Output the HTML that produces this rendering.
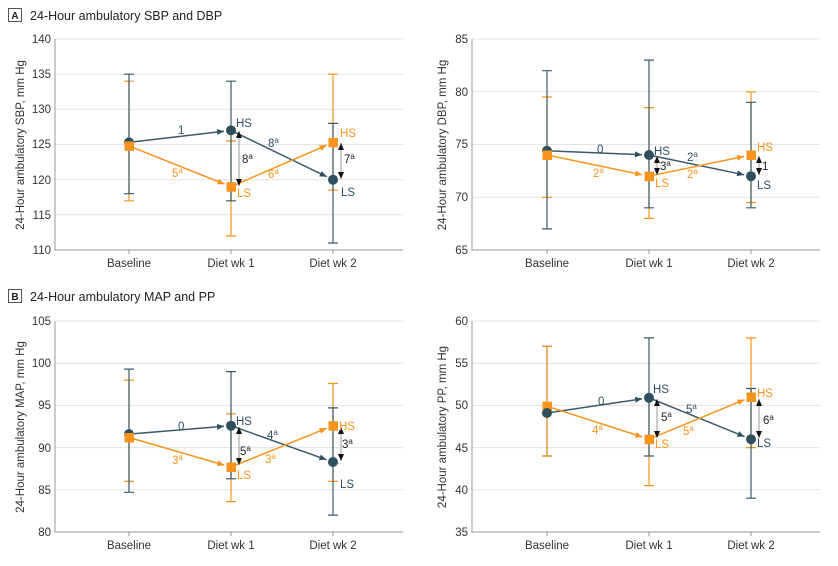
<!DOCTYPE html>
<html><head><meta charset="utf-8"><style>
body{margin:0;background:#fff}
svg{display:block;font-family:"Liberation Sans",sans-serif}
.g{stroke:#e3e3e3;stroke-width:1}
.ax{stroke:#999;stroke-width:1;fill:none}
.t{font-size:11.5px;fill:#333}
.n{stroke:#3a5a69;stroke-width:1.5;fill:none}
.o{stroke:#f7941d;stroke-width:1.5;fill:none}
.eb{stroke-width:1.2}
.nt{fill:#2f4f5f;font-size:11.5px}
.ot{fill:#f7941d;font-size:11.5px}
.kt{fill:#222;font-size:11.5px}
.gr{stroke:#999;stroke-width:1;fill:none}
</style></head><body>
<svg width="838" height="566" viewBox="0 0 838 566" xmlns="http://www.w3.org/2000/svg">
<defs>
<marker id="an" markerWidth="8" markerHeight="8" refX="7" refY="4" orient="auto" markerUnits="userSpaceOnUse"><path d="M0,1 L7,4 L0,7z" fill="#2f4f5f"/></marker>
<marker id="ao" markerWidth="8" markerHeight="8" refX="7" refY="4" orient="auto" markerUnits="userSpaceOnUse"><path d="M0,1 L7,4 L0,7z" fill="#f7941d"/></marker>
<marker id="ak" markerWidth="8" markerHeight="8" refX="7" refY="4" orient="auto-start-reverse" markerUnits="userSpaceOnUse"><path d="M0,1 L7,4 L0,7z" fill="#111"/></marker>
</defs>

<rect x="8.5" y="8.5" width="13" height="13" fill="none" stroke="#555"/>
<text x="15" y="19" text-anchor="middle" font-size="10" font-weight="bold" fill="#222">A</text>
<text x="30" y="20" font-size="12.5" fill="#222">24-Hour ambulatory SBP and DBP</text>
<rect x="8.5" y="289.5" width="13" height="13" fill="none" stroke="#555"/>
<text x="15" y="300" text-anchor="middle" font-size="10" font-weight="bold" fill="#222">B</text>
<text x="30" y="301" font-size="12.5" fill="#222">24-Hour ambulatory MAP and PP</text>

<g>
<line class="g" x1="55" x2="403" y1="39" y2="39"/><line class="g" x1="55" x2="403" y1="74.2" y2="74.2"/><line class="g" x1="55" x2="403" y1="109.3" y2="109.3"/><line class="g" x1="55" x2="403" y1="144.5" y2="144.5"/><line class="g" x1="55" x2="403" y1="179.7" y2="179.7"/><line class="g" x1="55" x2="403" y1="214.8" y2="214.8"/>
<path class="ax" d="M55,39 V250 H403 M129,250 v4 M231,250 v4 M333,250 v4"/>
<g class="t" text-anchor="end"><text x="51" y="43">140</text><text x="51" y="78">135</text><text x="51" y="113">130</text><text x="51" y="148">125</text><text x="51" y="184">120</text><text x="51" y="219">115</text><text x="51" y="254">110</text></g>
<g class="t" text-anchor="middle"><text x="129" y="267">Baseline</text><text x="231" y="267">Diet wk 1</text><text x="333" y="267">Diet wk 2</text></g>
<text class="t" transform="translate(24,145) rotate(-90)" text-anchor="middle">24-Hour ambulatory SBP, mm Hg</text>
<path class="o eb" d="M129,81.2V200.8M124,81.2h10M124,200.8h10 M231,141V236M226,141h10M226,236h10 M333,74.2V190.2M328,74.2h10M328,190.2h10"/>
<path class="n eb" d="M129,74.2V193.7M124,74.2h10M124,193.7h10 M231,81.2V200.8M226,81.2h10M226,200.8h10 M333,123.4V243M328,123.4h10M328,243h10"/>
<line class="n" x1="129" y1="142.4" x2="224" y2="131.2" marker-end="url(#an)"/>
<line class="n" x1="231" y1="130.4" x2="326.7" y2="176.7" marker-end="url(#an)"/>
<line class="o" x1="129" y1="145.9" x2="224.5" y2="184.1" marker-end="url(#ao)"/>
<line class="o" x1="231" y1="186.7" x2="326.6" y2="145.2" marker-end="url(#ao)"/>
<line class="gr" x1="239" y1="131" x2="239" y2="186" marker-start="url(#ak)" marker-end="url(#ak)"/>
<line class="gr" x1="341" y1="143" x2="341" y2="179" marker-start="url(#ak)" marker-end="url(#ak)"/>
<circle cx="129" cy="142.4" r="5" fill="#2f4f5f"/><rect x="124.5" y="141.4" width="9.5" height="9.5" fill="#f7941d"/>
<circle cx="231" cy="130.4" r="5" fill="#2f4f5f"/><rect x="226.5" y="182.2" width="9.5" height="9.5" fill="#f7941d"/>
<circle cx="333" cy="179.7" r="5" fill="#2f4f5f"/><rect x="328.5" y="137.9" width="9.5" height="9.5" fill="#f7941d"/>
<text class="nt" x="178" y="134">1</text>
<text class="nt" x="268" y="147">8<tspan font-size="8" dy="-4">a</tspan></text>
<text class="ot" x="172" y="177">5<tspan font-size="8" dy="-4">a</tspan></text>
<text class="ot" x="268" y="178">6<tspan font-size="8" dy="-4">a</tspan></text>
<text class="kt" x="242" y="163">8<tspan font-size="8" dy="-4">a</tspan></text>
<text class="kt" x="344" y="163">7<tspan font-size="8" dy="-4">a</tspan></text>
<text class="nt" x="236" y="127">HS</text><text class="ot" x="237" y="197">LS</text>
<text class="ot" x="340" y="137">HS</text><text class="nt" x="341" y="196">LS</text>
</g>

<g>
<line class="g" x1="472" x2="820" y1="39" y2="39"/><line class="g" x1="472" x2="820" y1="91.8" y2="91.8"/><line class="g" x1="472" x2="820" y1="144.5" y2="144.5"/><line class="g" x1="472" x2="820" y1="197.3" y2="197.3"/>
<path class="ax" d="M472,39 V250 H820 M547,250 v4 M649,250 v4 M751,250 v4"/>
<g class="t" text-anchor="end"><text x="468" y="43">85</text><text x="468" y="96">80</text><text x="468" y="148">75</text><text x="468" y="201">70</text><text x="468" y="254">65</text></g>
<g class="t" text-anchor="middle"><text x="547" y="267">Baseline</text><text x="649" y="267">Diet wk 1</text><text x="751" y="267">Diet wk 2</text></g>
<text class="t" transform="translate(446,145) rotate(-90)" text-anchor="middle">24-Hour ambulatory DBP, mm Hg</text>
<path class="o eb" d="M547,97V197.3M542,97h10M542,197.3h10 M649,107.6V218.4M644,107.6h10M644,218.4h10 M751,91.8V202.5M746,91.8h10M746,202.5h10"/>
<path class="n eb" d="M547,70.7V228.9M542,70.7h10M542,228.9h10 M649,60.1V207.8M644,60.1h10M644,207.8h10 M751,102.3V207.8M746,102.3h10M746,207.8h10"/>
<line class="n" x1="547" y1="150.8" x2="642" y2="154.7" marker-end="url(#an)"/>
<line class="n" x1="649" y1="155" x2="744.1" y2="174.8" marker-end="url(#an)"/>
<line class="o" x1="547" y1="155" x2="642.1" y2="174.8" marker-end="url(#ao)"/>
<line class="o" x1="649" y1="176.2" x2="744.1" y2="156.4" marker-end="url(#ao)"/>
<line class="gr" x1="657" y1="156" x2="657" y2="175" marker-start="url(#ak)" marker-end="url(#ak)"/>
<line class="gr" x1="759" y1="156" x2="759" y2="175" marker-start="url(#ak)" marker-end="url(#ak)"/>
<circle cx="547" cy="150.8" r="5" fill="#2f4f5f"/><rect x="542.5" y="150.5" width="9.5" height="9.5" fill="#f7941d"/>
<circle cx="649" cy="155" r="5" fill="#2f4f5f"/><rect x="644.5" y="171.7" width="9.5" height="9.5" fill="#f7941d"/>
<circle cx="751" cy="176.2" r="5" fill="#2f4f5f"/><rect x="746.5" y="150.5" width="9.5" height="9.5" fill="#f7941d"/>
<text class="nt" x="597" y="153">0</text>
<text class="nt" x="687" y="161">2<tspan font-size="8" dy="-4">a</tspan></text>
<text class="ot" x="593" y="177">2<tspan font-size="8" dy="-4">a</tspan></text>
<text class="ot" x="687" y="178">2<tspan font-size="8" dy="-4">a</tspan></text>
<text class="kt" x="660" y="170">3<tspan font-size="8" dy="-4">a</tspan></text>
<text class="kt" x="762" y="170">1</text>
<text class="nt" x="654" y="155">HS</text><text class="ot" x="655" y="187">LS</text>
<text class="ot" x="757" y="151">HS</text><text class="nt" x="757" y="189">LS</text>
</g>

<g>
<line class="g" x1="55" x2="403" y1="321" y2="321"/><line class="g" x1="55" x2="403" y1="363.2" y2="363.2"/><line class="g" x1="55" x2="403" y1="405.4" y2="405.4"/><line class="g" x1="55" x2="403" y1="447.6" y2="447.6"/><line class="g" x1="55" x2="403" y1="489.8" y2="489.8"/>
<path class="ax" d="M55,321 V532 H403 M129,532 v4 M231,532 v4 M333,532 v4"/>
<g class="t" text-anchor="end"><text x="51" y="325">105</text><text x="51" y="367">100</text><text x="51" y="409">95</text><text x="51" y="452">90</text><text x="51" y="494">85</text><text x="51" y="536">80</text></g>
<g class="t" text-anchor="middle"><text x="129" y="549">Baseline</text><text x="231" y="549">Diet wk 1</text><text x="333" y="549">Diet wk 2</text></g>
<text class="t" transform="translate(24,427) rotate(-90)" text-anchor="middle">24-Hour ambulatory MAP, mm Hg</text>
<path class="o eb" d="M129,380.1V481.4M124,380.1h10M124,481.4h10 M231,413.8V501.6M226,413.8h10M226,501.6h10 M333,383.5V481.4M328,383.5h10M328,481.4h10"/>
<path class="n eb" d="M129,369.1V492.3M124,369.1h10M124,492.3h10 M231,371.6V478.8M226,371.6h10M226,478.8h10 M333,407.9V515.1M328,407.9h10M328,515.1h10"/>
<line class="n" x1="129" y1="434.1" x2="224" y2="426.3" marker-end="url(#an)"/>
<line class="n" x1="231" y1="425.7" x2="326.4" y2="459.7" marker-end="url(#an)"/>
<line class="o" x1="129" y1="437.5" x2="224.3" y2="465.1" marker-end="url(#ao)"/>
<line class="o" x1="231" y1="467" x2="326.5" y2="428.3" marker-end="url(#ao)"/>
<line class="gr" x1="239" y1="427" x2="239" y2="465" marker-start="url(#ak)" marker-end="url(#ak)"/>
<line class="gr" x1="341" y1="427" x2="341" y2="461" marker-start="url(#ak)" marker-end="url(#ak)"/>
<circle cx="129" cy="434.1" r="5" fill="#2f4f5f"/><rect x="124.5" y="433" width="9.5" height="9.5" fill="#f7941d"/>
<circle cx="231" cy="425.7" r="5" fill="#2f4f5f"/><rect x="226.5" y="462.5" width="9.5" height="9.5" fill="#f7941d"/>
<circle cx="333" cy="462" r="5" fill="#2f4f5f"/><rect x="328.5" y="421.2" width="9.5" height="9.5" fill="#f7941d"/>
<text class="nt" x="178" y="430">0</text>
<text class="nt" x="267" y="439">4<tspan font-size="8" dy="-4">a</tspan></text>
<text class="ot" x="172" y="464">3<tspan font-size="8" dy="-4">a</tspan></text>
<text class="ot" x="265" y="463">3<tspan font-size="8" dy="-4">a</tspan></text>
<text class="kt" x="240" y="455">5<tspan font-size="8" dy="-4">a</tspan></text>
<text class="kt" x="342" y="448">3<tspan font-size="8" dy="-4">a</tspan></text>
<text class="nt" x="236" y="425">HS</text><text class="ot" x="237" y="479">LS</text>
<text class="ot" x="339" y="430">HS</text><text class="nt" x="340" y="488">LS</text>
</g>

<g>
<line class="g" x1="472" x2="820" y1="321" y2="321"/><line class="g" x1="472" x2="820" y1="363.2" y2="363.2"/><line class="g" x1="472" x2="820" y1="405.4" y2="405.4"/><line class="g" x1="472" x2="820" y1="447.6" y2="447.6"/><line class="g" x1="472" x2="820" y1="489.8" y2="489.8"/>
<path class="ax" d="M472,321 V532 H820 M547,532 v4 M649,532 v4 M751,532 v4"/>
<g class="t" text-anchor="end"><text x="468" y="325">60</text><text x="468" y="367">55</text><text x="468" y="409">50</text><text x="468" y="452">45</text><text x="468" y="494">40</text><text x="468" y="536">35</text></g>
<g class="t" text-anchor="middle"><text x="547" y="549">Baseline</text><text x="649" y="549">Diet wk 1</text><text x="751" y="549">Diet wk 2</text></g>
<text class="t" transform="translate(446,427) rotate(-90)" text-anchor="middle">24-Hour ambulatory PP, mm Hg</text>
<path class="n eb" d="M547,346.3V456M542,346.3h10M542,456h10"/>
<path class="o eb" d="M547,346.3V456M542,346.3h10M542,456h10 M649,397V485.6M644,485.6h10 M751,337.9V447.6M746,337.9h10M746,447.6h10"/>
<path class="n eb" d="M649,337.9V456M644,337.9h10M644,456h10 M751,388.5V498.2M746,388.5h10M746,498.2h10"/>
<line class="n" x1="547" y1="413" x2="642.1" y2="398.8" marker-end="url(#an)"/>
<line class="n" x1="649" y1="397.8" x2="744.5" y2="436.6" marker-end="url(#an)"/>
<line class="o" x1="547" y1="406.2" x2="642.3" y2="437" marker-end="url(#ao)"/>
<line class="o" x1="649" y1="439.2" x2="744.5" y2="399.7" marker-end="url(#ao)"/>
<line class="gr" x1="657" y1="399" x2="657" y2="438" marker-start="url(#ak)" marker-end="url(#ak)"/>
<line class="gr" x1="759" y1="399" x2="759" y2="438" marker-start="url(#ak)" marker-end="url(#ak)"/>
<rect x="542.5" y="401.7" width="9.5" height="9.5" fill="#f7941d"/><circle cx="547" cy="413" r="5" fill="#2f4f5f"/>
<circle cx="649" cy="397.8" r="5" fill="#2f4f5f"/><rect x="644.5" y="434.7" width="9.5" height="9.5" fill="#f7941d"/>
<circle cx="751" cy="439.2" r="5" fill="#2f4f5f"/><rect x="746.5" y="392.5" width="9.5" height="9.5" fill="#f7941d"/>
<text class="nt" x="598" y="405">0</text>
<text class="nt" x="686" y="413">5<tspan font-size="8" dy="-4">a</tspan></text>
<text class="ot" x="592" y="434">4<tspan font-size="8" dy="-4">a</tspan></text>
<text class="ot" x="683" y="435">5<tspan font-size="8" dy="-4">a</tspan></text>
<text class="kt" x="661" y="421">5<tspan font-size="8" dy="-4">a</tspan></text>
<text class="kt" x="763" y="424">6<tspan font-size="8" dy="-4">a</tspan></text>
<text class="nt" x="653" y="393">HS</text><text class="ot" x="655" y="448">LS</text>
<text class="ot" x="757" y="397">HS</text><text class="nt" x="757" y="447">LS</text>
</g>
</svg>
</body></html>
